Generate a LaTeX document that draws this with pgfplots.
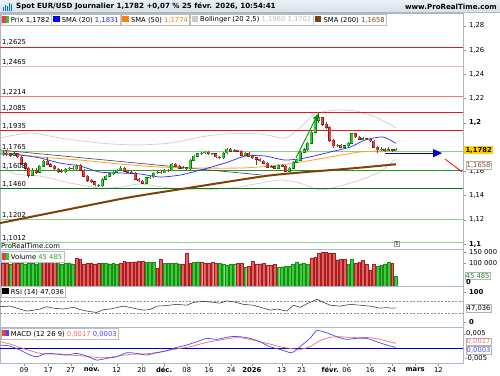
\documentclass[border=0pt]{standalone}
\usepackage{pgfplots}
\pgfplotsset{compat=1.18}
\usepackage{pgfplotstable}
\usepackage{fontspec}
\setmainfont{DejaVu Sans}
\usetikzlibrary{arrows.meta}

\definecolor{cg}{RGB}{46,204,46}
\definecolor{cgd}{RGB}{16,120,16}
\definecolor{cr}{RGB}{232,64,64}
\definecolor{crd}{RGB}{140,26,26}
\definecolor{sma20}{RGB}{40,40,255}
\definecolor{sma50}{RGB}{255,160,40}
\definecolor{boll}{RGB}{205,205,205}
\definecolor{sma200}{RGB}{128,64,10}
\definecolor{hdr}{RGB}{214,225,235}
\definecolor{axc}{RGB}{170,185,200}
\definecolor{lred}{RGB}{238,120,120}
\definecolor{pred}{RGB}{245,175,175}
\definecolor{sred}{RGB}{220,30,30}
\definecolor{lgreen}{RGB}{140,208,140}
\definecolor{mgreen}{RGB}{40,150,40}
\definecolor{dgreen}{RGB}{10,120,10}
\definecolor{vg}{RGB}{60,205,60}
\definecolor{vgd}{RGB}{25,140,25}
\definecolor{vr}{RGB}{225,100,100}
\definecolor{vrd}{RGB}{170,30,30}
\definecolor{gold}{RGB}{255,208,0}
\definecolor{macdb}{RGB}{70,70,255}
\definecolor{macdr}{RGB}{240,110,110}
\definecolor{tagbr}{RGB}{140,70,20}
\definecolor{txtgray}{RGB}{190,190,190}

\newcommand{\fs}{\fontsize{6.8}{8}\selectfont}
\newcommand{\sqr}[1]{\textcolor{#1}{\rule[-0.4pt]{6.5pt}{6.5pt}}}
\newcommand{\sqtwo}[2]{\textcolor{#1}{\rule[-0.4pt]{3.25pt}{6.5pt}}\textcolor{#2}{\rule[-0.4pt]{3.25pt}{6.5pt}}}

\pgfplotstableread{
i o h l c
0 1.1743 1.1770 1.1730 1.1751
1 1.1751 1.1765 1.1728 1.1743
2 1.1743 1.1755 1.1722 1.1734
3 1.1734 1.1760 1.1725 1.1743
4 1.1743 1.1752 1.1708 1.1718
5 1.1718 1.1725 1.1655 1.1668
6 1.1668 1.1675 1.1612 1.1627
7 1.1627 1.1635 1.1545 1.1569
8 1.1569 1.1625 1.1560 1.1610
9 1.1610 1.1625 1.1575 1.1594
10 1.1594 1.1655 1.1585 1.1643
11 1.1643 1.1695 1.1635 1.1685
12 1.1685 1.1720 1.1650 1.1660
13 1.1660 1.1672 1.1632 1.1643
14 1.1643 1.1650 1.1608 1.1619
15 1.1619 1.1625 1.1590 1.1602
16 1.1602 1.1615 1.1585 1.1598
17 1.1598 1.1628 1.1590 1.1619
18 1.1619 1.1638 1.1608 1.1627
19 1.1627 1.1640 1.1610 1.1619
20 1.1619 1.1662 1.1612 1.1652
21 1.1652 1.1660 1.1600 1.1610
22 1.1610 1.1618 1.1550 1.1561
23 1.1561 1.1570 1.1515 1.1528
24 1.1528 1.1540 1.1500 1.1512
25 1.1512 1.1520 1.1475 1.1487
26 1.1487 1.1495 1.1468 1.1479
27 1.1479 1.1545 1.1470 1.1536
28 1.1536 1.1572 1.1528 1.1561
29 1.1561 1.1590 1.1550 1.1578
30 1.1578 1.1605 1.1568 1.1594
31 1.1594 1.1620 1.1585 1.1610
32 1.1610 1.1640 1.1600 1.1627
33 1.1627 1.1635 1.1595 1.1602
34 1.1602 1.1612 1.1585 1.1594
35 1.1594 1.1605 1.1575 1.1586
36 1.1586 1.1592 1.1525 1.1536
37 1.1536 1.1545 1.1510 1.1520
38 1.1520 1.1528 1.1492 1.1503
39 1.1503 1.1552 1.1495 1.1545
40 1.1545 1.1565 1.1538 1.1553
41 1.1553 1.1595 1.1545 1.1586
42 1.1586 1.1605 1.1578 1.1594
43 1.1594 1.1602 1.1580 1.1590
44 1.1590 1.1618 1.1582 1.1610
45 1.1610 1.1620 1.1598 1.1606
46 1.1606 1.1668 1.1600 1.1660
47 1.1660 1.1672 1.1635 1.1643
48 1.1643 1.1650 1.1618 1.1627
49 1.1627 1.1640 1.1618 1.1630
50 1.1630 1.1638 1.1610 1.1619
51 1.1619 1.1700 1.1612 1.1693
52 1.1693 1.1735 1.1685 1.1726
53 1.1726 1.1752 1.1718 1.1743
54 1.1743 1.1762 1.1735 1.1751
55 1.1751 1.1770 1.1742 1.1759
56 1.1759 1.1765 1.1735 1.1743
57 1.1743 1.1755 1.1735 1.1745
58 1.1745 1.1750 1.1710 1.1718
59 1.1718 1.1725 1.1700 1.1710
60 1.1710 1.1758 1.1702 1.1751
61 1.1751 1.1795 1.1745 1.1784
62 1.1784 1.1790 1.1760 1.1767
63 1.1767 1.1780 1.1760 1.1772
64 1.1772 1.1778 1.1758 1.1767
65 1.1767 1.1772 1.1725 1.1734
66 1.1734 1.1760 1.1728 1.1751
67 1.1751 1.1758 1.1718 1.1726
68 1.1726 1.1732 1.1700 1.1710
69 1.1710 1.1715 1.1652 1.1701
70 1.1701 1.1708 1.1675 1.1685
71 1.1685 1.1690 1.1658 1.1668
72 1.1668 1.1675 1.1625 1.1635
73 1.1635 1.1650 1.1625 1.1638
74 1.1638 1.1645 1.1615 1.1627
75 1.1627 1.1660 1.1620 1.1652
76 1.1652 1.1658 1.1635 1.1643
77 1.1643 1.1650 1.1592 1.1602
78 1.1602 1.1635 1.1595 1.1627
79 1.1627 1.1685 1.1618 1.1676
80 1.1676 1.1702 1.1668 1.1693
81 1.1693 1.1768 1.1688 1.1759
82 1.1759 1.1790 1.1750 1.1776
83 1.1776 1.1845 1.1770 1.1833
84 1.1833 1.1935 1.1825 1.1924
85 1.1924 1.2040 1.1915 1.2023
86 1.2023 1.2081 1.2000 1.2040
87 1.2040 1.2048 1.1975 1.1990
88 1.1990 1.2005 1.1950 1.1965
89 1.1965 1.1972 1.1845 1.1858
90 1.1858 1.1865 1.1795 1.1809
91 1.1809 1.1828 1.1800 1.1817
92 1.1817 1.1825 1.1790 1.1800
93 1.1800 1.1818 1.1795 1.1809
94 1.1809 1.1842 1.1800 1.1833
95 1.1833 1.1920 1.1825 1.1908
96 1.1908 1.1915 1.1875 1.1883
97 1.1883 1.1890 1.1858 1.1866
98 1.1866 1.1880 1.1858 1.1870
99 1.1870 1.1878 1.1858 1.1866
100 1.1866 1.1872 1.1840 1.1850
101 1.1850 1.1855 1.1790 1.1800
102 1.1800 1.1808 1.1755 1.1776
103 1.1776 1.1800 1.1770 1.1784
104 1.1784 1.1792 1.1762 1.1772
105 1.1772 1.1798 1.1765 1.1778
106 1.1778 1.1785 1.1760 1.1770
107 1.1770 1.1790 1.1765 1.1782
}\candles

\pgfplotstableread{
i v g
0 100000 0
1 102000 0
2 97000 1
3 105000 0
4 103000 0
5 100000 1
6 98000 1
7 100000 1
8 103000 1
9 99000 1
10 104000 1
11 106000 0
12 108000 0
13 110000 0
14 106000 0
15 104000 1
16 97000 1
17 100000 1
18 103000 1
19 99000 1
20 125000 0
21 121000 0
22 97000 0
23 100000 0
24 103000 0
25 98000 0
26 101000 0
27 103000 1
28 100000 1
29 99000 1
30 101000 1
31 97000 1
32 100000 0
33 110000 0
34 104000 0
35 106000 0
36 108000 0
37 112000 0
38 110000 0
39 106000 1
40 104000 1
41 107000 1
42 78000 0
43 120000 0
44 100000 1
45 101000 1
46 100000 1
47 103000 1
48 99000 1
49 98000 0
50 144000 0
51 101000 0
52 105000 1
53 108000 1
54 104000 0
55 100000 0
56 103000 0
57 104000 0
58 101000 0
59 100000 1
60 96000 1
61 94000 1
62 97000 1
63 95000 1
64 101000 0
65 100000 0
66 85000 1
67 87000 0
68 111000 0
69 97000 0
70 99000 0
71 100000 0
72 91000 0
73 93000 0
74 95000 0
75 85000 1
76 86000 1
77 88000 1
78 87000 1
79 96000 1
80 107000 1
81 99000 1
82 101000 1
83 97000 1
84 125000 0
85 130000 0
86 144000 0
87 150000 0
88 150000 0
89 146000 0
90 147000 0
91 117000 0
92 118000 0
93 120000 0
94 97000 1
95 119000 1
96 101000 0
97 105000 0
98 113000 0
99 97000 0
100 70000 0
101 97000 0
102 87000 1
103 92000 1
104 99000 1
105 105000 1
106 100000 0
107 45485 1
}\vol

\pgfplotstableread{
i r
-0.8 51
1.9 52.9
3.7 46.2
6.5 36.7
8.3 39.6
10.1 43.4
11.9 51
13.7 46.2
16.4 43.4
19.2 49.1
21 41.5
22.8 36.7
25.5 32
27.4 41.5
29.2 43.4
32.8 52.9
35.5 46.2
38.2 39.6
40 41.5
41.9 52.9
44.6 54.8
47.3 58.6
50.1 55.8
51.9 65.3
54.6 68.1
57.3 65.3
59.1 62.4
60.9 70
62.8 67.2
65.5 58.6
68.2 55.8
70.9 46.2
72.8 39.6
74.6 43.4
77.3 36.7
79.1 55.8
81 49.1
82.8 60.5
84.6 70
85.5 74.8
86.4 70
89.1 55.8
91.8 52.9
94.6 58.6
97.3 55.8
100 52.9
102.7 46.2
104.5 48
105.9 46
107 47.04
}\rsi

\pgfplotstableread{
i m
-0.8 0.00111
1.9 0.00076
4.6 -0.00064
7.4 -0.0024
9.2 -0.00299
11.9 -0.00182
14.6 -0.00205
17.3 -0.0024
20.1 -0.00182
22.8 -0.00276
25.5 -0.00416
28.2 -0.00358
31 -0.00299
33.7 -0.00158
36.4 -0.00182
39.1 -0.0024
41.9 -0.00158
44.6 -0.00088
47.3 0.00029
50 0.00111
52.8 0.00229
55.5 0.00346
58.2 0.00311
61.8 0.00404
64.6 0.00404
67.3 0.00346
70 0.00229
72.7 0.00053
75.4 -0.00041
78.2 -0.00158
79.1 -0.00135
80.9 0.00053
83.6 0.00346
85.4 0.00615
87.3 0.0058
89.1 0.00498
90.9 0.00404
93.6 0.00311
96.3 0.00346
99 0.00346
101.8 0.00229
104.5 0.00111
107 0.0003
}\macd

\pgfplotstableread{
i s
-0.8 0.00229
1.9 0.00147
4.6 0.00029
7.4 -0.00088
10.1 -0.00182
12.8 -0.00205
15.5 -0.00205
18.2 -0.0024
21 -0.00264
23.7 -0.00299
26.4 -0.00334
29.1 -0.00322
31.9 -0.00264
34.6 -0.00217
37.3 -0.00205
40 -0.00182
42.8 -0.00135
45.5 -0.00064
48.2 -0.00006
51 0.00053
53.7 0.00147
56.4 0.00229
59.1 0.00287
61.8 0.00346
64.6 0.00369
67.3 0.00311
70 0.00229
72.7 0.00147
75.4 0.00053
78.2 -0.00006
80.9 -0.00041
83.6 0.00053
86.3 0.00264
89.1 0.00381
91.8 0.00404
94.5 0.00381
97.3 0.00381
100 0.00369
102.7 0.00311
104.5 0.00252
107 0.0017
}\signal

\pgfplotstableread{
i p
-0.8 1.1743
4.6 1.1734
10.1 1.1710
15.5 1.1668
21 1.1643
26.4 1.1594
31.9 1.1586
37.3 1.1578
42.8 1.1553
48.2 1.1569
53.7 1.1610
60.5 1.1668
66 1.1726
71.4 1.1726
76.8 1.1693
82.3 1.1710
89.1 1.1759
94.6 1.1800
98.6 1.1858
103.5 1.1883
107 1.1831
}\smaA

\pgfplotstableread{
i p
-0.8 1.1759
10.1 1.1718
21 1.1693
31.9 1.1660
42.8 1.1635
53.7 1.1627
64.6 1.1627
72.8 1.1643
81 1.1676
89.1 1.1718
97.3 1.1759
107 1.1774
}\smaB

\pgfplotstableread{
i p
-0.8 1.1173
15.5 1.1272
31.9 1.1371
40 1.1413
53.7 1.1478
71.4 1.1561
81 1.1590
94.6 1.1623
107 1.1658
}\smaC

\pgfplotstableread{
i p
-0.8 1.1875
7.4 1.1916
15.5 1.1875
26.4 1.1833
36 1.1817
45.5 1.1833
53.7 1.1883
60.5 1.1908
70 1.1908
76.8 1.1875
80.9 1.1957
85 1.2073
90.5 1.2106
95.9 1.2098
101.4 1.2048
107 1.1960
}\bollU

\pgfplotstableread{
i p
-0.8 1.1652
3.3 1.1578
10.1 1.1561
18.3 1.1503
26.4 1.1462
31.9 1.1470
37.3 1.1495
45.5 1.1462
53.7 1.1446
61.9 1.1462
68.7 1.1495
75.5 1.1528
80.9 1.1503
86.4 1.1446
91.8 1.1479
97.3 1.1528
102.7 1.1594
104.1 1.1627
107 1.1702
}\bollL

\pgfplotsset{
  panel/.style={anchor=north west, scale only axis, width=463pt,
    xmin=-0.82, xmax=125.3, axis line style={draw=axc},
    ytick pos=right, yticklabel pos=right, tick align=outside,
    major tick length=2.5pt, tick style={draw=axc!80!black},
    scaled ticks=false,
    tick label style={font=\fs}, clip=true},
}

\begin{document}
\begin{tikzpicture}[x=1pt,y=1pt]
\useasboundingbox (0pt,0pt) rectangle (500pt,-375pt);
\fill[white] (0pt,0pt) rectangle (500pt,-375pt);

%================ MAIN PRICE PANEL =================
\begin{axis}[panel, at={(0pt,-13pt)}, height=236pt,
  ymin=1.0959, ymax=1.2906, xtick=\empty,
  ytick={1.1,1.12,1.14,1.16,1.18,1.2,1.22,1.24,1.26,1.28},
  yticklabels={{\textbf{1{,}1}},{1{,}12},{1{,}14},{1{,}16},{},{\textbf{1{,}2}},{1{,}22},{1{,}24},{1{,}26},{1{,}28}}]

\addplot[boll, line width=0.7pt, smooth, tension=0.4] table[x=i,y=p]{\bollU};
\addplot[boll, line width=0.7pt, smooth, tension=0.4] table[x=i,y=p]{\bollL};

\addplot[sred, line width=0.9pt] coordinates {(-0.82,1.2625) (125.3,1.2625)};
\addplot[pred, line width=0.9pt] coordinates {(-0.82,1.2465) (125.3,1.2465)};
\addplot[lred, line width=0.9pt] coordinates {(-0.82,1.2214) (125.3,1.2214)};
\addplot[sred, line width=0.9pt] coordinates {(-0.82,1.2085) (125.3,1.2085)};
\addplot[sred, line width=0.9pt] coordinates {(-0.82,1.1935) (125.3,1.1935)};
\addplot[lgreen, line width=0.9pt] coordinates {(-0.82,1.1765) (125.3,1.1765)};
\addplot[mgreen, line width=1pt] coordinates {(-0.82,1.1608) (125.3,1.1608)};
\addplot[dgreen, line width=1pt] coordinates {(-0.82,1.1460) (125.3,1.1460)};
\addplot[lgreen, line width=0.9pt] coordinates {(-0.82,1.1202) (125.3,1.1202)};
\addplot[lgreen, line width=0.9pt] coordinates {(-0.82,1.1012) (125.3,1.1012)};

\addplot[sma200, line width=2pt, smooth, tension=0.4] table[x=i,y=p]{\smaC};
\addplot[black!75, line width=0.6pt] coordinates {(-0.82,1.1776) (70.6,1.1569)};
\addplot[sma50, line width=0.8pt, smooth, tension=0.4] table[x=i,y=p]{\smaB};
\addplot[sma20, line width=0.7pt, smooth, tension=0.4] table[x=i,y=p]{\smaA};

% wicks
\addplot[quiver={u=0, v={\thisrow{h}-\thisrow{l}}}, draw=black!70, line width=0.5pt, mark=none]
  table[x=i, y=l]{\candles};
% green bodies
\addplot[quiver={u=0, v={\thisrow{c}-\thisrow{o}+0.0008}}, draw=cgd, line width=3pt, mark=none,
  restrict expr to domain={\thisrow{c}-\thisrow{o}}{0:1}]
  table[x=i, y expr={\thisrow{o}-0.0004}]{\candles};
\addplot[quiver={u=0, v={\thisrow{c}-\thisrow{o}}}, draw=cg, line width=2pt, mark=none,
  restrict expr to domain={\thisrow{c}-\thisrow{o}}{0:1}]
  table[x=i, y=o]{\candles};
% red bodies
\addplot[quiver={u=0, v={\thisrow{o}-\thisrow{c}+0.0008}}, draw=crd, line width=3pt, mark=none,
  restrict expr to domain={\thisrow{c}-\thisrow{o}}{-1:-0.00001}]
  table[x=i, y expr={\thisrow{c}-0.0004}]{\candles};
\addplot[quiver={u=0, v={\thisrow{o}-\thisrow{c}}}, draw=cr, line width=2pt, mark=none,
  restrict expr to domain={\thisrow{c}-\thisrow{o}}{-1:-0.00001}]
  table[x=i, y=c]{\candles};

\addplot[green!60!black, line width=0.9pt, -{Triangle[length=6pt,width=5pt]}] coordinates {(79.8,1.1710) (85.8,1.2073)};
\addplot[blue!85!black, line width=1pt, -{Triangle[length=9pt,width=8pt]}] coordinates {(104.1,1.1750) (119.6,1.1750)};
\addplot[red, line width=0.8pt] coordinates {(120.4,1.1701) (125.1,1.1594)};
\end{axis}

%================ VOLUME PANEL =================
\begin{axis}[panel, at={(0pt,-249pt)}, height=37pt,
  ymin=0, ymax=164444, xtick=\empty,
  ytick={100000,150000}, yticklabels={{100 000},{150 000}}]
\addplot[ybar, bar width=2.8pt, bar shift=0pt, fill=vg, draw=vgd, line width=0.3pt,
  restrict expr to domain={\thisrow{g}}{0.5:1.5}] table[x=i,y=v]{\vol};
\addplot[ybar, bar width=2.8pt, bar shift=0pt, fill=vr, draw=vrd, line width=0.3pt,
  restrict expr to domain={\thisrow{g}}{-0.5:0.5}] table[x=i,y=v]{\vol};
\end{axis}

%================ RSI PANEL =================
\begin{axis}[panel, at={(0pt,-286pt)}, height=41pt,
  ymin=-15.4, ymax=118.6, xtick=\empty,
  ytick={0,100}, yticklabels={{\textbf{0}},{\textbf{100}}}]
\addplot[black!45, line width=0.35pt, dash pattern=on 2pt off 1.5pt] coordinates {(-0.82,70) (125.3,70)};
\addplot[black!45, line width=0.35pt, dash pattern=on 2pt off 1.5pt] coordinates {(-0.82,30) (125.3,30)};
\addplot[black!80, line width=0.55pt] table[x=i,y=r]{\rsi};
\end{axis}

%================ MACD PANEL =================
\begin{axis}[panel, at={(0pt,-327pt)}, height=36pt,
  ymin=-0.0052, ymax=0.00746,
  ytick={0.005}, yticklabels={{}},
  xtick pos=bottom,
  xtick={5.72,12.34,18.45,24.17,30.98,37.79,43.87,50.05,56.13,62.13,67.77,75.94,81.39,89.1,93.65,100,105.91,112.26,118.61},
  xticklabels={09,17,27,\textbf{nov.},12,20,\textbf{déc.},08,16,24,\textbf{2026},13,21,\textbf{févr.},06,16,24,\textbf{mars},12},
  xticklabel style={yshift=1.5pt}]
\addplot[blue!80!black, line width=0.8pt] coordinates {(-0.82,0) (125.3,0)};
\addplot[macdr, line width=0.7pt, smooth, tension=0.4] table[x=i,y=s]{\signal};
\addplot[macdb, line width=0.7pt, smooth, tension=0.4] table[x=i,y=m]{\macd};
\end{axis}

%================ HEADER & LABELS =================
\shade[top color=white!50!hdr, bottom color=hdr] (0pt,0pt) rectangle (500pt,-12.5pt);
\draw[axc] (0pt,-12.5pt) -- (500pt,-12.5pt);
\foreach \xx/\hh in {3/4,5/6,7/5,9/8,11/7} \fill[blue!60!cyan] (\xx pt,-10.5pt) rectangle (\xx pt+1.2pt,-10.5pt+\hh pt);
\node[anchor=west, font=\fontsize{7.1}{8}\selectfont\bfseries, inner sep=0pt] at (16pt,-6.5pt) {Spot EUR/USD Journalier 1,1782 +0,07 \% 25 févr. 2026, 10:54:41};
\node[anchor=east, font=\fontsize{7.1}{8}\selectfont\bfseries, inner sep=0pt] at (497pt,-7pt) {www.ProRealTime.com};

\tikzset{lg/.style={draw=black!25, fill=white, inner sep=1.6pt, anchor=north west, font=\fs, minimum height=11.5pt}}
\node[lg] (b1) at (0.5pt,-13.5pt) {\sqtwo{cr}{cg} Prix 1,1782};
\node[lg] (b2) at (b1.north east) {\sqr{blue} SMA (20) \textcolor{sma20}{1,1831}};
\node[lg] (b3) at (b2.north east) {\sqr{orange} SMA (50) \textcolor{orange}{1,1774}};
\node[lg] (b4) at (b3.north east) {\sqr{black!20} Bollinger (20 2,5) \textcolor{txtgray}{1,1960 1,1702}};
\node[lg] (b5) at (b4.north east) {\sqr{sma200} SMA (200) \textcolor{tagbr}{1,1658}};

\foreach \yy/\tt in {47/{1,2625},66.4/{1,2465},97/{1,2214},112.6/{1,2085},130.8/{1,1935},151.5/{1,1765},170.3/{1,1608},188.4/{1,1460},219.5/{1,1202},242.5/{1,1012}}
  \node[anchor=base west, font=\fs, inner sep=0pt] at (2pt,-\yy pt+2.2pt) {\tt};

\node[anchor=base west, font=\fs, inner sep=0pt] at (1pt,-248pt) {ProRealTime.com};
\node[draw=black!40, font=\fontsize{5}{5}\selectfont, inner sep=0.8pt] at (397pt,-243.5pt) {1};

\node[anchor=west, fill=gold, font=\fs\bfseries, inner sep=1.3pt] at (464pt,-150pt) {1,1782};
\node[anchor=west, fill=white, draw=black!30, text=tagbr, font=\fs, inner sep=1pt] at (465.5pt,-165.5pt) {1,1658};
\node[anchor=west, fill=white, draw=black!30, text=vgd, font=\fs, inner sep=1pt] at (464.5pt,-276pt) {45 485};
\node[anchor=west, font=\fs, inner sep=0pt] at (466pt,-282pt) {\textbf{0}};
\node[anchor=west, fill=white, draw=black!30, font=\fs, inner sep=1pt] at (465.5pt,-308.5pt) {47,036};
\node[anchor=west, font=\fs, inner sep=0pt] at (466pt,-333.5pt) {0,005};
\node[anchor=west, fill=white, draw=black!30, text=macdr, font=\fs, inner sep=1pt] at (465.5pt,-341.7pt) {0,0017};
\node[anchor=west, fill=white, draw=black!30, text=macdb, font=\fs, inner sep=1pt] at (465.5pt,-350.3pt) {0,0003};
\node[anchor=west, font=\fs, inner sep=0pt] at (465pt,-358pt) {-0,005};

\node[lg] at (0.5pt,-250.5pt) {\sqtwo{cr}{cg} Volume \textcolor{vg!80!black}{45 485}};
\node[lg] at (0.5pt,-285.5pt) {\sqr{black} RSI (14) 47,036};
\node[lg] at (0.5pt,-327.5pt) {\sqtwo{cr}{macdb} MACD (12 26 9) \textcolor{macdr}{0,0017} \textcolor{macdb}{0,0003}};
\end{tikzpicture}
\end{document}
